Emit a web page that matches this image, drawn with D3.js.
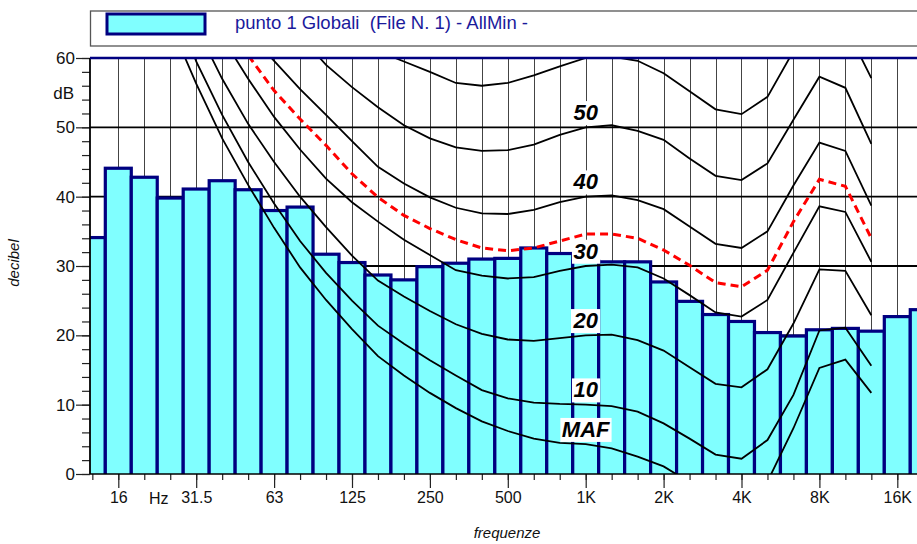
<!DOCTYPE html>
<html>
<head>
<meta charset="utf-8">
<script src="https://cdn.jsdelivr.net/npm/d3@7"></script>
<style>
  body { margin: 0; background: #fff; }
  svg { display: block; font-family: Arial, "Liberation Sans", sans-serif; }
</style>
</head>
<body>
<div class="viz"></div>
<script>
const width = 917;
const height = 544;
const plot = { left: 90, right: 917, top: 58, bottom: 474 };

// third octave bands of the measurement (bars)
const bands = [12.5, 16, 20, 25, 31.5, 40, 50, 63, 80, 100, 125, 160, 200, 250, 315, 400, 500, 630, 800,
  1000, 1250, 1600, 2000, 2500, 3150, 4000, 5000, 6300, 8000, 10000, 12500, 16000, 20000];
const levels = [34.1, 44.1, 42.8, 39.8, 41.1, 42.3, 41.0, 38.0, 38.5, 31.7, 30.5, 28.7, 28.0, 29.9, 30.4, 31.0, 31.1, 32.6, 31.8,
  30.7, 30.6, 30.6, 27.7, 24.9, 23.0, 22.0, 20.4, 19.9, 20.8, 21.0, 20.6, 22.7, 23.7];

// isophone curves 20 Hz .. 12.5 kHz, null = far above the top of the chart
const curveBands = [20, 25, 31.5, 40, 50, 63, 80, 100, 125, 160, 200, 250, 315, 400, 500, 630, 800,
  1000, 1250, 1600, 2000, 2500, 3150, 4000, 5000, 6300, 8000, 10000, 12500];
const maf = [null, 65.0, 56.3, 48.4, 41.7, 35.5, 29.8, 25.1, 20.9, 17.0, 14.2, 11.7, 9.5, 7.6, 6.2, 5.1, 4.5,
  4.3, 3.7, 2.5, 1.1, -1.2, -3.6, -3.9, -1.1, 6.6, 15.3, 16.5, 11.7];
const phon10 = [null, 70.0, 59.5, 51.8, 45.0, 39.0, 33.6, 29.0, 25.0, 21.4, 18.8, 16.4, 14.2, 12.1, 10.9, 10.3, 10.1,
  10.0, 9.8, 9.0, 7.3, 5.1, 2.8, 2.2, 4.9, 11.4, 20.7, 21.1, 15.6];
const phon20 = [null, 76.0, 64.5, 57.0, 50.5, 45.0, 40.0, 35.6, 31.5, 27.9, 25.6, 23.5, 21.6, 20.2, 19.4, 19.2, 19.6,
  20.0, 20.1, 19.3, 17.8, 15.4, 13.0, 12.5, 15.1, 21.7, 29.5, 29.3, 22.9];
const phon30 = [null, null, 71.0, 63.0, 57.0, 51.5, 46.8, 42.6, 39.2, 36.4, 33.8, 31.6, 29.4, 28.6, 28.2, 28.4, 29.3,
  30.0, 30.2, 29.8, 28.2, 25.8, 23.3, 22.7, 25.1, 31.9, 38.6, 37.8, 30.6];
const loudness = [null, null, null, 64.5, 60.4, 55.3, 51.2, 47.4, 43.3, 39.9, 37.3, 35.4, 33.8, 32.6, 32.2, 32.6, 33.6,
  34.6, 34.6, 34.0, 32.3, 30.1, 27.6, 27.0, 29.4, 36.4, 42.5, 41.5, 34.0];
const phon40 = [null, null, null, null, 63.5, 59.6, 55.5, 51.8, 48.0, 44.3, 41.9, 39.9, 38.4, 37.6, 37.5, 38.1, 39.2,
  40.0, 40.2, 39.5, 38.2, 35.7, 33.2, 32.6, 35.0, 41.6, 47.8, 46.6, 38.7];
const phon50 = [null, null, null, null, null, null, 63.2, 59.0, 55.8, 52.9, 50.3, 48.4, 47.1, 46.6, 46.7, 47.5, 48.9,
  50.0, 50.3, 49.5, 48.2, 45.5, 43.0, 42.4, 44.8, 51.1, 57.3, 55.7, 47.6];
const phon60 = [null, null, null, null, null, null, null, null, 63.0, 61.0, 59.5, 58.0, 56.4, 56.0, 56.4, 57.5, 58.8,
  60.0, 60.2, 59.6, 57.8, 55.2, 52.6, 51.9, 54.4, 61.0, 67.0, 64.6, 57.1];

const curveNames = ["MAF", "10", "20", "30", "40", "50", "60"];
const curveValues = [maf, phon10, phon20, phon30, phon40, phon50, phon60];

// axis labels
const xTickBands = [16, 31.5, 63, 125, 250, 500, 1000, 2000, 4000, 8000, 16000];
const xTickLabels = ["16", "31.5", "63", "125", "250", "500", "1K", "2K", "4K", "8K", "16K"];
const unitBand = 22.4; // "Hz" sits between 20 and 25
const yMajor = [0, 10, 20, 30, 40, 50, 60];
const legendText = "punto 1 Globali\u00a0\u00a0(File N. 1) - AllMin -";

const navy = "#000080";
const cyan = "#80ffff";

// nominal band -> exact base 2 centre frequency
const exact = f => 1000 * Math.pow(2, Math.round(3 * Math.log2(f / 1000)) / 3);

const x = d3.scaleLog().domain([15.625, 16000]).range([118.3, 897.3]);
const y = d3.scaleLinear().domain([0, 60]).range([plot.bottom, plot.top]);

const svg = d3.select(".viz").append("svg")
  .attr("width", width)
  .attr("height", height);

svg.append("clipPath").attr("id", "plotclip")
  .append("rect")
  .attr("x", plot.left).attr("y", plot.top)
  .attr("width", plot.right - plot.left).attr("height", plot.bottom - plot.top);

// legend
const legend = svg.append("g").attr("class", "legend");
legend.append("rect")
  .attr("x", 90.5).attr("y", 11).attr("width", 840).attr("height", 35)
  .attr("fill", "#fff").attr("stroke", "#555").attr("stroke-width", 1.3);
legend.append("rect")
  .attr("x", 107).attr("y", 14).attr("width", 98).attr("height", 20)
  .attr("fill", cyan).attr("stroke", navy).attr("stroke-width", 3);
legend.append("text")
  .attr("x", 235).attr("y", 28.5)
  .attr("font-size", 18.5).attr("fill", "#1a1a9c")
  .text(legendText);

// grid behind the bars
const grid = svg.append("g").attr("class", "grid");
grid.selectAll("line.v")
  .data(bands.filter(f => f >= 16 && f <= 16000))
  .join("line")
  .attr("class", "v")
  .attr("x1", d => Math.round(x(exact(d))) + 0.5).attr("x2", d => Math.round(x(exact(d))) + 0.5)
  .attr("y1", plot.top).attr("y2", plot.bottom)
  .attr("stroke", "#444").attr("stroke-width", 1);
grid.selectAll("line.h")
  .data([10, 20, 30, 40, 50])
  .join("line")
  .attr("class", "h")
  .attr("x1", plot.left).attr("x2", plot.right)
  .attr("y1", d => y(d)).attr("y2", d => y(d))
  .attr("stroke", "#000").attr("stroke-width", 1.8);

// bars, one per third octave
const barData = bands.map((f, i) => ({ f: exact(f), value: levels[i] }));
svg.append("g")
  .attr("class", "bars")
  .attr("clip-path", "url(#plotclip)")
  .selectAll("rect")
  .data(barData)
  .join("rect")
  .attr("x", d => x(d.f * Math.pow(2, -1 / 6)))
  .attr("width", d => x(d.f * Math.pow(2, 1 / 6)) - x(d.f * Math.pow(2, -1 / 6)))
  .attr("y", d => y(d.value))
  .attr("height", d => y(0) - y(d.value) + 2)
  .attr("fill", cyan)
  .attr("stroke", navy)
  .attr("stroke-width", 3.2);

// isophones
const line = d3.line()
  .defined(d => d.v !== null)
  .x(d => x(d.f))
  .y(d => y(d.v));

const curves = svg.append("g").attr("class", "curves").attr("clip-path", "url(#plotclip)");
curves.selectAll("path.iso")
  .data(curveValues)
  .join("path")
  .attr("class", "iso")
  .attr("d", vals => line(vals.map((v, i) => ({ f: exact(curveBands[i]), v }))))
  .attr("fill", "none")
  .attr("stroke", "#000")
  .attr("stroke-width", 1.8);

curves.append("path")
  .attr("d", line(loudness.map((v, i) => ({ f: exact(curveBands[i]), v }))))
  .attr("fill", "none")
  .attr("stroke", "#ff0000")
  .attr("stroke-width", 3)
  .attr("stroke-dasharray", "8,5");

// curve names next to 1 kHz, white box behind them
const labels = svg.append("g").attr("class", "curve-labels");
const k1 = curveBands.indexOf(1000);
curveNames.slice(0, 6).forEach((name, i) => {
  const g = labels.append("g");
  const t = g.append("text")
    .attr("x", x(1000))
    .attr("y", y(curveValues[i][k1] + 2.2) + 8)
    .attr("text-anchor", "middle")
    .attr("font-size", 22)
    .attr("font-weight", "bold")
    .attr("font-style", "italic")
    .attr("fill", "#000")
    .text(name);
  const b = t.node().getBBox();
  g.insert("rect", "text")
    .attr("x", b.x - 1.5).attr("y", b.y + 1)
    .attr("width", b.width + 3).attr("height", b.height - 1)
    .attr("fill", "#fff");
});

// axes
const yMinor = svg.append("g")
  .attr("transform", `translate(${plot.left},0)`)
  .call(d3.axisLeft(y).tickValues(d3.range(0, 61, 2)).tickSize(8).tickSizeOuter(0).tickFormat(""));
const yAxis = svg.append("g")
  .attr("transform", `translate(${plot.left},0)`)
  .call(d3.axisLeft(y).tickValues(yMajor).tickSize(14).tickSizeOuter(0).tickPadding(1));
yAxis.selectAll("text").attr("font-size", 17).attr("font-family", "Arial, 'Liberation Sans', sans-serif").attr("fill", "#111");
svg.selectAll(".domain").remove();
svg.selectAll(".tick line").attr("stroke", "#222").attr("stroke-width", 1.2);

svg.append("text")
  .attr("x", 74).attr("y", y(55) + 6)
  .attr("text-anchor", "end")
  .attr("font-size", 17).attr("fill", "#111")
  .text("dB");

const xMinor = svg.append("g")
  .attr("transform", `translate(0,${plot.bottom})`)
  .call(d3.axisBottom(x).tickValues(bands.map(exact).filter(f => x(f) >= plot.left - 3)).tickSize(6).tickSizeOuter(0).tickFormat(""));
const xAxis = svg.append("g")
  .attr("transform", `translate(0,${plot.bottom})`)
  .call(d3.axisBottom(x).tickValues(xTickBands.map(exact)).tickSize(14).tickSizeOuter(0).tickPadding(4)
    .tickFormat((d, i) => xTickLabels[i]));
xAxis.selectAll("text").attr("font-size", 16).attr("font-family", "Arial, 'Liberation Sans', sans-serif").attr("fill", "#111");
xAxis.select(".domain").remove();
xMinor.select(".domain").remove();
svg.selectAll(".tick line").attr("stroke", "#222").attr("stroke-width", 1.2);

svg.append("text")
  .attr("x", x(unitBand)).attr("y", 504)
  .attr("text-anchor", "middle")
  .attr("font-size", 16).attr("fill", "#111")
  .text("Hz");

// frame lines
svg.append("line")
  .attr("x1", plot.left).attr("x2", plot.left)
  .attr("y1", plot.top).attr("y2", plot.bottom)
  .attr("stroke", "#000").attr("stroke-width", 1.8);
svg.append("line")
  .attr("x1", plot.left).attr("x2", plot.right)
  .attr("y1", plot.bottom).attr("y2", plot.bottom)
  .attr("stroke", "#000").attr("stroke-width", 1.5);
svg.append("line")
  .attr("x1", plot.left).attr("x2", plot.right)
  .attr("y1", plot.top).attr("y2", plot.top)
  .attr("stroke", navy).attr("stroke-width", 2.5);

// axis titles
svg.append("text")
  .attr("transform", `translate(19,263) rotate(-90)`)
  .attr("text-anchor", "middle")
  .attr("font-size", 15).attr("font-style", "italic").attr("fill", "#111")
  .text("decibel");
svg.append("text")
  .attr("x", 507).attr("y", 538)
  .attr("text-anchor", "middle")
  .attr("font-size", 15).attr("font-style", "italic").attr("fill", "#111")
  .text("frequenze");
</script>
</body>
</html>
